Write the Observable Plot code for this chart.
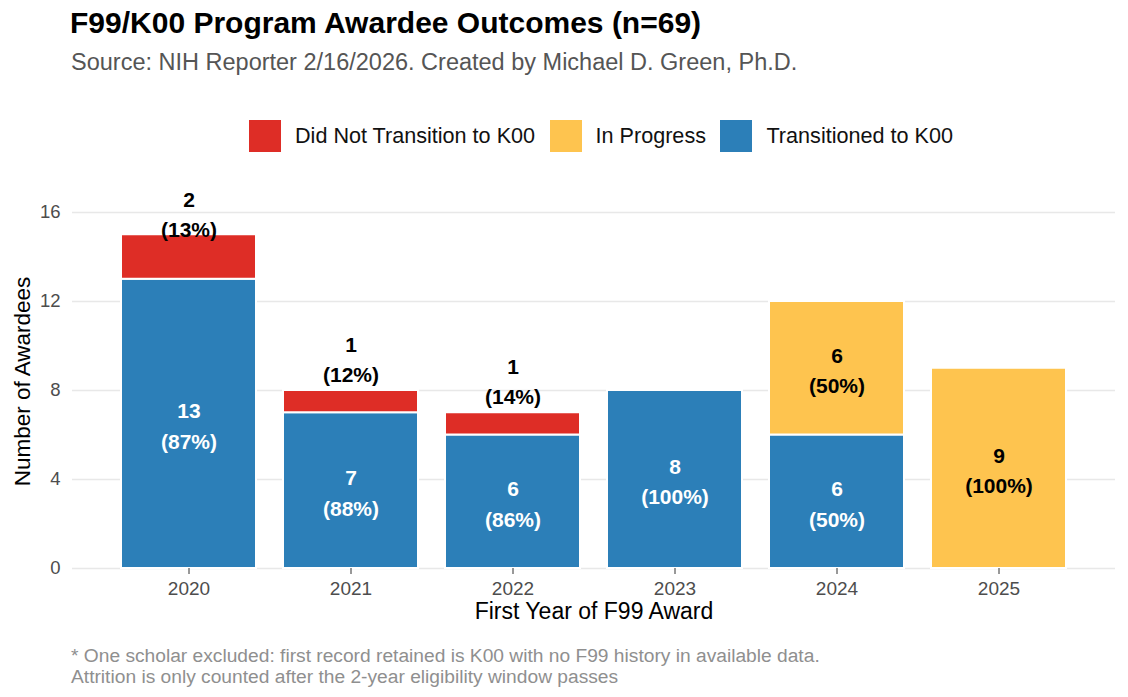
<!DOCTYPE html>
<html><head><meta charset="utf-8">
<script src="https://cdn.jsdelivr.net/npm/d3@7"></script>
<script src="https://cdn.jsdelivr.net/npm/@observablehq/plot@0.6"></script>
<style>
body{margin:0;background:#fff;font-family:"Liberation Sans",Arial,sans-serif;}
#wrap{position:relative;width:1128px;height:697px;overflow:hidden;background:#fff;}
.abs{position:absolute;white-space:nowrap;}
#title{left:70px;top:8px;font-size:30px;line-height:30px;font-weight:bold;color:#000;}
#subtitle{left:71px;top:51px;font-size:23.5px;line-height:23.5px;color:#555;}
#legend{left:249px;top:120px;display:flex;align-items:center;font-size:21.6px;line-height:22px;color:#111;}
.sw{width:32px;height:32px;margin-right:14px}
.lab{margin-right:14.5px}
#caption{left:71px;top:645px;font-size:19.2px;line-height:21px;color:#8f8f8f}
#chart{left:0;top:160px}
</style></head>
<body>
<div id="wrap">
  <div id="title" class="abs">F99/K00 Program Awardee Outcomes (n=69)</div>
  <div id="subtitle" class="abs">Source: NIH Reporter 2/16/2026. Created by Michael D. Green, Ph.D.</div>
  <div id="legend" class="abs"></div>
  <div id="chart" class="abs"></div>
  <div id="caption" class="abs">* One scholar excluded: first record retained is K00 with no F99 history in available data.<br>Attrition is only counted after the 2-year eligibility window passes</div>
</div>
<script>
const years = ["2020", "2021", "2022", "2023", "2024", "2025"];
const transitioned = [13, 7, 6, 8, 6, 0];
const didNotTransition = [2, 1, 1, 0, 0, 0];
const inProgress = [0, 0, 0, 0, 6, 9];
const categories = ["Did Not Transition to K00", "In Progress", "Transitioned to K00"];
const colors = ["#DE2D26", "#FEC44F", "#2C7FB8"];
const yTicks = [0, 4, 8, 12, 16];

function roundHalfEven(x) {
  const f = Math.floor(x);
  if (Math.abs(x - f - 0.5) < 1e-9) return f % 2 === 0 ? f : f + 1;
  return Math.round(x);
}

const rows = [];
years.forEach((year, i) => {
  const total = transitioned[i] + didNotTransition[i] + inProgress[i];
  let base = 0;
  const parts = [
    ["Transitioned to K00", transitioned[i]],
    ["Did Not Transition to K00", didNotTransition[i]],
    ["In Progress", inProgress[i]]
  ];
  for (const [cat, n] of parts) {
    if (n <= 0) continue;
    const y1 = base, y2 = base + n;
    base = y2;
    const pct = roundHalfEven(n / total * 100);
    const ly = cat === "Did Not Transition to K00" ? Math.min(total + 1.5, 16) : (y1 + y2) / 2;
    rows.push({year, cat, n, y1, y2, ly, label: `${n}\n(${pct}%)`});
  }
});

// legend
const legend = document.getElementById("legend");
categories.forEach((c, i) => {
  const sw = document.createElement("div");
  sw.className = "sw"; sw.style.background = colors[i];
  const lab = document.createElement("div");
  lab.className = "lab"; lab.textContent = c;
  legend.appendChild(sw); legend.appendChild(lab);
});

const chart = Plot.plot({
  width: 1128,
  height: 470,
  marginLeft: 72,
  marginRight: 13,
  marginTop: 52,
  marginBottom: 62,
  style: {fontFamily: "'Liberation Sans', Arial, sans-serif", background: "white"},
  x: {domain: years, range: [107, 1080], paddingInner: 0.168, paddingOuter: 0.084, align: 0.5, label: null},
  y: {domain: [0, 16], label: null},
  color: {domain: categories, range: colors},
  marks: [
    Plot.gridY(yTicks, {stroke: "#e8e8e8", strokeOpacity: 1, strokeWidth: 1.5}),
    Plot.barY(rows, {x: "year", y1: "y1", y2: "y2", fill: "cat", stroke: "white", strokeWidth: 2}),
    Plot.axisY(yTicks, {tickSize: 0, tickPadding: 12, fontSize: 18.5, color: "#4d4d4d", label: null}),
    Plot.axisX({tickSize: 6, tickPadding: 6.5, fontSize: 19, color: "#4d4d4d", stroke: "#333", label: null}),
    Plot.text(rows, {filter: d => d.cat === "Transitioned to K00", x: "year", y: "ly", text: "label", fill: "white", fontWeight: "bold", fontSize: 21, lineHeight: 1.45}),
    Plot.text(rows, {filter: d => d.cat !== "Transitioned to K00", x: "year", y: "ly", text: "label", fill: "black", fontWeight: "bold", fontSize: 21, lineHeight: 1.45}),
    Plot.text(["First Year of F99 Award"], {frameAnchor: "bottom", textAnchor: "middle", lineAnchor: "middle", dy: 43.5, fontSize: 23, fill: "black"}),
    Plot.text(["Number of Awardees"], {frameAnchor: "left", textAnchor: "middle", lineAnchor: "middle", rotate: -90, dx: -50, dy: -9, fontSize: 22.5, fill: "black"})
  ]
});
document.getElementById("chart").appendChild(chart);
</script>
</body></html>
